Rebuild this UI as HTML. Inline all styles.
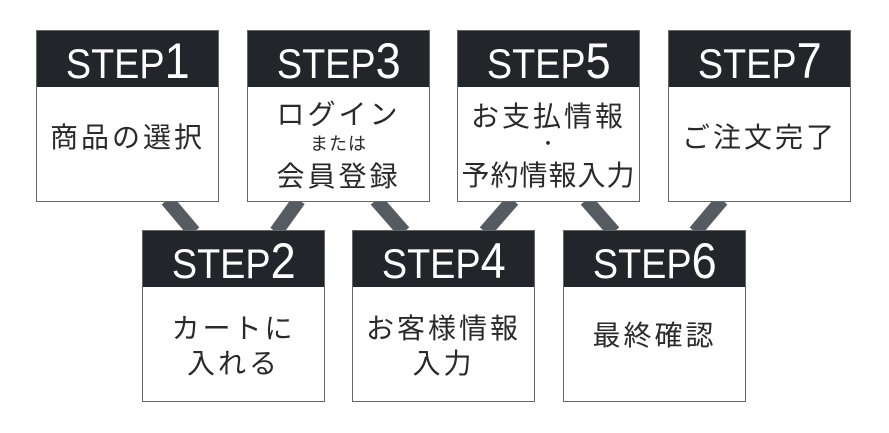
<!DOCTYPE html>
<html><head><meta charset="utf-8"><style>
body{margin:0;width:889px;height:433px;background:#fff;position:relative;overflow:hidden;font-family:"Liberation Sans","Noto Sans CJK JP",sans-serif}
.b{position:absolute;width:181px;height:170px;border:1px solid #666;background:#fff;box-sizing:content-box}
.h{height:56px;background:#222529;color:#fff;text-align:center;font-size:42px;line-height:60px;white-space:nowrap}
.h div{display:inline-block;transform:scaleX(0.9)}
.h span{font-size:50px}
.t{position:absolute;left:0;width:100%;text-align:center;color:#2a2a2a;font-size:28px;letter-spacing:3px;white-space:nowrap;line-height:1}
.s{font-size:18px;letter-spacing:1px}
svg{position:absolute;left:0;top:0}
</style></head><body>
<svg width="889" height="433"><g stroke="#555b61" stroke-width="14">
<line x1="167" y1="200" x2="194" y2="232"/>
<line x1="299" y1="200" x2="276" y2="232"/>
<line x1="376" y1="200" x2="404" y2="232"/>
<line x1="513" y1="200" x2="485" y2="232"/>
<line x1="586" y1="200" x2="614" y2="232"/>
<line x1="722" y1="200" x2="695" y2="232"/>
</g></svg>
<div class="b" style="left:36px;top:30px"><div class="h"><div>STEP<span>1</span></div></div><div class="t" style="top:93px">商品の選択</div></div>
<div class="b" style="left:247px;top:30px"><div class="h"><div>STEP<span>3</span></div></div><div class="t" style="top:70px">ログイン</div><div class="t s" style="top:104px">または</div><div class="t" style="top:132px">会員登録</div></div>
<div class="b" style="left:457px;top:30px"><div class="h"><div>STEP<span>5</span></div></div><div class="t" style="top:72px">お支払情報</div><div class="t s" style="top:104px">・</div><div class="t" style="top:131px;letter-spacing:1px">予約情報入力</div></div>
<div class="b" style="left:668px;top:30px"><div class="h"><div>STEP<span>7</span></div></div><div class="t" style="top:93px">ご注文完了</div></div>
<div class="b" style="left:142px;top:230px"><div class="h"><div>STEP<span>2</span></div></div><div class="t" style="top:84px">カートに</div><div class="t" style="top:119px">入れる</div></div>
<div class="b" style="left:352px;top:230px"><div class="h"><div>STEP<span>4</span></div></div><div class="t" style="top:84px">お客様情報</div><div class="t" style="top:119px">入力</div></div>
<div class="b" style="left:563px;top:230px"><div class="h"><div>STEP<span>6</span></div></div><div class="t" style="top:91px">最終確認</div></div>
</body></html>
